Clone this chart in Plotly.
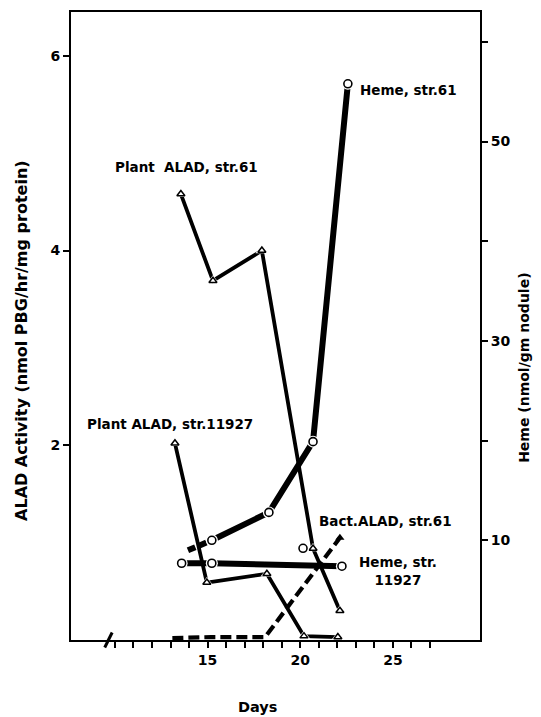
import plotly.graph_objects as go

# ---------------- data ----------------
plant61_days = [13.56, 15.29, 17.93, 20.69, 22.14]
plant61_alad = [4.58, 3.69, 4.00, 0.94, 0.30]

plant11927_days = [13.24, 14.96, 18.20, 20.20, 22.03]
plant11927_alad = [2.02, 0.59, 0.68, 0.04, 0.03]

bact61_days = [13.10, 15.20, 18.10, 22.14]
bact61_alad = [0.02, 0.03, 0.03, 1.05]

heme61_days = [15.23, 18.31, 20.69, 22.57]
heme61_val = [10.0, 12.8, 19.9, 55.8]
heme61_start_days = [13.94, 15.23]
heme61_start_val = [9.0, 10.0]

heme11927_days = [13.60, 15.23, 22.25]
heme11927_val = [7.7, 7.7, 7.4]
heme11927_extra_days = [20.15]
heme11927_extra_val = [9.2]

x_tick_vals = list(range(10, 28))
x_tick_labels = {15: "15", 20: "20", 25: "25"}
left_tick_vals = [2, 4, 6]
right_tick_vals = [10, 20, 30, 40, 50, 60]
right_tick_labels = {10: "10", 30: "30", 50: "50"}

FONT = "DejaVu Sans"
W, H = 541, 717
L, R, T, B = 71, 480, 10, 640


def px(xp):
    return (xp - L) / (R - L)


def py(yp):
    return (B - yp) / (B - T)


fig = go.Figure()

# lines
fig.add_trace(go.Scatter(x=plant61_days, y=plant61_alad, mode="lines",
                         line=dict(color="black", width=3.8), yaxis="y"))
fig.add_trace(go.Scatter(x=plant11927_days, y=plant11927_alad, mode="lines",
                         line=dict(color="black", width=3.8), yaxis="y"))
fig.add_trace(go.Scatter(x=bact61_days, y=bact61_alad, mode="lines",
                         line=dict(color="black", width=4.2, dash="11px,5px"), yaxis="y"))
fig.add_trace(go.Scatter(x=heme61_days, y=heme61_val, mode="lines",
                         line=dict(color="black", width=6), yaxis="y2"))
fig.add_trace(go.Scatter(x=heme61_start_days, y=heme61_start_val, mode="lines",
                         line=dict(color="black", width=6, dash="8px,4px"), yaxis="y2"))
fig.add_trace(go.Scatter(x=heme11927_days, y=heme11927_val, mode="lines",
                         line=dict(color="black", width=6), yaxis="y2"))

# white halos so lines stop short of the markers
halo = dict(color="white", line=dict(width=0))
fig.add_trace(go.Scatter(x=plant61_days, y=plant61_alad, mode="markers",
                         marker=dict(symbol="triangle-up", size=11, **halo), yaxis="y"))
fig.add_trace(go.Scatter(x=plant11927_days, y=plant11927_alad, mode="markers",
                         marker=dict(symbol="triangle-up", size=11, **halo), yaxis="y"))
fig.add_trace(go.Scatter(x=heme61_days, y=heme61_val, mode="markers",
                         marker=dict(symbol="circle", size=12, **halo), yaxis="y2"))
fig.add_trace(go.Scatter(x=heme11927_days + heme11927_extra_days,
                         y=heme11927_val + heme11927_extra_val, mode="markers",
                         marker=dict(symbol="circle", size=12, **halo), yaxis="y2"))

# markers
tri = dict(symbol="triangle-up-open", size=7, color="black", line=dict(width=1.5, color="black"))
circ = dict(symbol="circle", size=8, color="white", line=dict(width=1.6, color="black"))
fig.add_trace(go.Scatter(x=plant61_days, y=plant61_alad, mode="markers", marker=tri, yaxis="y"))
fig.add_trace(go.Scatter(x=plant11927_days, y=plant11927_alad, mode="markers", marker=tri, yaxis="y"))
fig.add_trace(go.Scatter(x=bact61_days[-1:], y=bact61_alad[-1:], mode="markers",
                         marker=dict(symbol="triangle-up", size=8, color="black"), yaxis="y"))
fig.add_trace(go.Scatter(x=heme61_days, y=heme61_val, mode="markers", marker=circ, yaxis="y2"))
fig.add_trace(go.Scatter(x=heme11927_days + heme11927_extra_days,
                         y=heme11927_val + heme11927_extra_val, mode="markers", marker=circ, yaxis="y2"))

tick_font = dict(family=FONT, size=14, color="black", weight="bold")
lab_font = dict(family=FONT, size=13.5, color="black", weight="bold")

fig.update_layout(
    width=W, height=H,
    margin=dict(l=L, r=W - R, t=T, b=H - B),
    paper_bgcolor="white", plot_bgcolor="white",
    showlegend=False,
    xaxis=dict(range=[7.63, 29.7], tickvals=x_tick_vals,
               ticktext=[x_tick_labels.get(v, "") for v in x_tick_vals],
               ticks="outside", ticklen=6, tickwidth=1.5, tickcolor="black",
               showline=True, linecolor="black", linewidth=2, mirror=True,
               showgrid=False, zeroline=False, tickfont=tick_font, fixedrange=True),
    yaxis=dict(range=[0, 6.45], tickvals=left_tick_vals,
               ticks="outside", ticklen=6, tickwidth=1.5, tickcolor="black",
               showline=True, linecolor="black", linewidth=2,
               showgrid=False, zeroline=False, tickfont=tick_font),
    yaxis2=dict(range=[0, 63], overlaying="y", side="right", tickvals=right_tick_vals,
                ticktext=[right_tick_labels.get(v, "") for v in right_tick_vals],
                ticks="outside", ticklen=6, tickwidth=1.5, tickcolor="black",
                showline=True, linecolor="black", linewidth=2,
                showgrid=False, zeroline=False, tickfont=tick_font),
)

# axis break mark on the x axis
fig.add_shape(type="line", xref="x", yref="paper", x0=9.45, x1=9.85, y0=-0.012, y1=0.012,
              line=dict(color="black", width=3))

ann = [
    ("Plant  ALAD, str.61", 186, 165),
    ("Plant ALAD, str.11927", 170, 423),
    ("Heme, str.61", 408, 88),
    ("Bact.ALAD, str.61", 385, 521),
    ("Heme, str.<br>11927", 398, 571),
]
for text, xp, yp in ann:
    fig.add_annotation(text=text, xref="paper", yref="paper", x=px(xp), y=py(yp),
                       showarrow=False, font=lab_font, xanchor="center", yanchor="middle",
                       align="center")

fig.add_annotation(text="ALAD Activity (nmol PBG/hr/mg protein)", xref="paper", yref="paper",
                   x=px(22), y=py(340), textangle=-90, showarrow=False,
                   font=dict(family=FONT, size=16, color="black", weight="bold"),
                   xanchor="center", yanchor="middle")
fig.add_annotation(text="Heme (nmol/gm nodule)", xref="paper", yref="paper",
                   x=px(524), y=py(367), textangle=-90, showarrow=False,
                   font=dict(family=FONT, size=14, color="black", weight="bold"),
                   xanchor="center", yanchor="middle")
fig.add_annotation(text="Days", xref="paper", yref="paper", x=px(257), y=py(707),
                   showarrow=False, font=dict(family=FONT, size=14.5, color="black", weight="bold"),
                   xanchor="center", yanchor="middle")

fig.write_html("out.html")
